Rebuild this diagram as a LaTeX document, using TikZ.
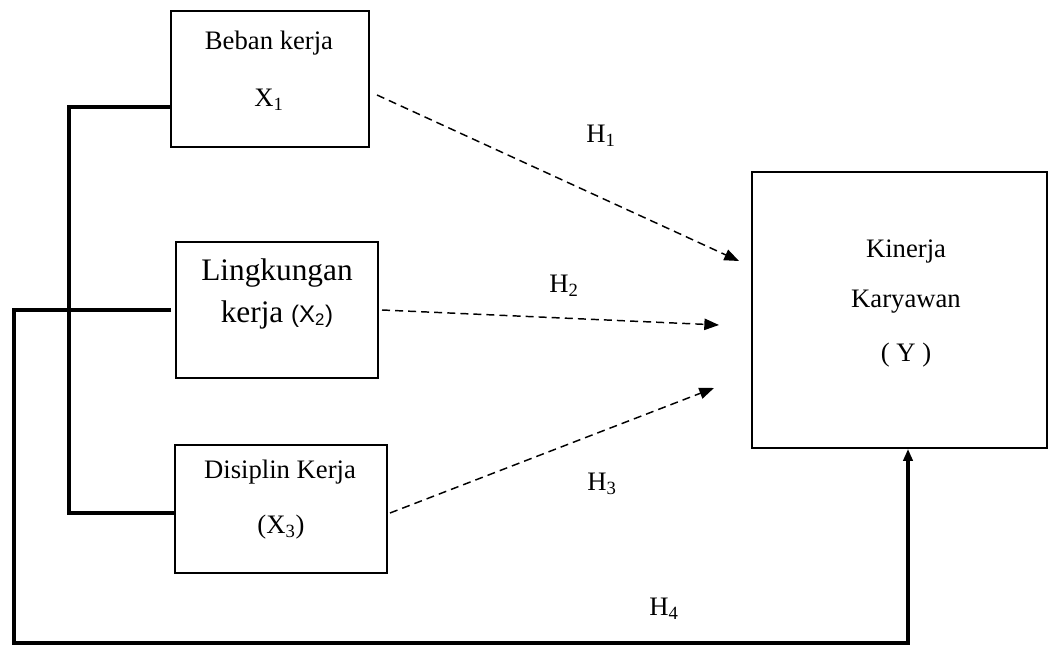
\documentclass[tikz,border=0pt]{standalone}
\usepackage{fontspec}
\setmainfont{Liberation Serif}
\newfontfamily\sansx{Liberation Sans}
\usetikzlibrary{arrows.meta}
\begin{document}
\begin{tikzpicture}[x=0.75pt,y=-0.75pt,
  box/.style={draw,line width=1.4pt,inner sep=0pt},
  txt/.style={inner sep=0pt,font=\fontsize{20}{24}\selectfont},
  big/.style={inner sep=0pt,font=\fontsize{23.5}{28}\selectfont},
  thick line/.style={line width=2.6pt},
  dline/.style={line width=1.1pt,dash pattern=on 6pt off 3.8pt,-{Triangle[length=11pt,width=8.5pt]}},
  solidarrow/.style={line width=2.6pt,-{Triangle[length=9pt,width=7pt]}}]
\useasboundingbox (0,0) rectangle (1049,645);
% boxes
\node[box,minimum width=148.5pt,minimum height=102pt] (x1) at (270,79) {};
\node[box,minimum width=151.5pt,minimum height=102pt] (x2) at (277,310) {};
\node[box,minimum width=159pt,minimum height=96pt] (x3) at (281,509) {};
\node[box,minimum width=221.5pt,minimum height=207pt] (y) at (899.5,310) {};
% texts
\node[txt] (t1a) at (269,43) {Beban kerja};
\node[txt] (t1b) at (269,100) {X\textsubscript{1}};
\node[big] (t2a) at (277,273) {Lingkungan};
\node[big,anchor=base] (t2b) at (277,322) {kerja {\sansx\fontsize{18}{20}\selectfont(X\textsubscript{2})}};
\node[txt] (t3a) at (280,472) {Disiplin Kerja};
\node[txt] (t3b) at (281,527) {(X\textsubscript{3})};
\node[txt] (tya) at (906,252) {Kinerja};
\node[txt] (tyb) at (906,302) {Karyawan};
\node[txt] (tyc) at (906,355) {( Y )};
% hypothesis labels
\node[txt] (h1) at (601,136) {H\textsubscript{1}};
\node[txt] (h2) at (564,286) {H\textsubscript{2}};
\node[txt] (h3) at (602,484) {H\textsubscript{3}};
\node[txt] (h4) at (664,609) {H\textsubscript{4}};
% coordinates
\coordinate (h1s) at (377,95);
\coordinate (h1e) at (739,261);
\coordinate (h2s) at (382,310);
\coordinate (h2e) at (719,325);
\coordinate (h3s) at (390,513);
\coordinate (h3e) at (714,388);
\coordinate (k1) at (69,107);
\coordinate (k2) at (69,513);
\coordinate (o1) at (14,310);
\coordinate (o2) at (14,643);
\coordinate (o3) at (908,643);
% dashed arrows
\draw[dline] (h1s) -- (h1e);
\draw[dline] (h2s) -- (h2e);
\draw[dline] (h3s) -- (h3e);
% bracket
\draw[thick line] (k1 -| x1.west) -- (k1) -- (k2) -- (k2 -| x3.west);
% outer line
\draw[solidarrow] ([xshift=-3pt]x2.west) -- (o1) -- (o2) -- (o3) -- (o3 |- y.south);
\end{tikzpicture}
\end{document}
